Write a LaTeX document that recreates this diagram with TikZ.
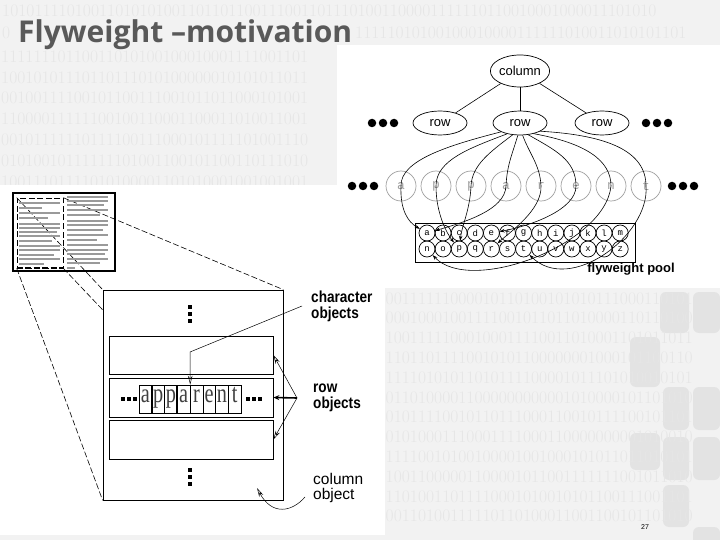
\documentclass[tikz,border=0pt]{standalone}
\usepackage{fontspec}
\usepackage{graphicx}
\usetikzlibrary{arrows.meta,shapes.geometric}
\newfontfamily\lsans{Liberation Sans}
\newfontfamily\lmono{Liberation Mono}
\newfontfamily\lserif{Liberation Serif}
\newfontfamily\osans{Open Sans}
\definecolor{bgc}{HTML}{F2F2F2}
\definecolor{digc}{HTML}{E6E6E6}
\definecolor{titc}{HTML}{595959}
\definecolor{sqc}{HTML}{E3E3E3}
\definecolor{ltg}{HTML}{A0A0A0}
\definecolor{barc}{HTML}{9A9A9A}
\pgfdeclarelayer{back}
\pgfdeclarelayer{mid}
\pgfsetlayers{back,mid,main}
\begin{document}
\begin{tikzpicture}[x=1pt,y=-1pt,
  ell/.style={ellipse, draw, line width=0.7pt, inner sep=0pt, font=\lsans\fontsize{13}{13}\selectfont},
  bigdot/.style={circle, fill=black, inner sep=0pt, minimum size=8.5pt},
  smdot/.style={rectangle, fill=black, inner sep=0pt, minimum size=4pt},
  lcirc/.style={circle, draw=ltg, line width=0.7pt, minimum size=30pt, inner sep=0pt, text=ltg, font=\lmono\fontsize{13}{13}\selectfont},
  pcirc/.style={circle, draw, line width=0.7pt, minimum size=16pt, inner sep=0pt, font=\lmono\fontsize{9}{9}\selectfont},
  conn/.style={line width=0.6pt},
  arr/.style={conn, -{Stealth[length=5pt,width=3.5pt]}},
  oarr/.style={line width=0.5pt, -{Stealth[open,length=9pt,width=4.5pt]}},
  dsh/.style={line width=0.6pt, dash pattern=on 6pt off 2.5pt},
  boxn/.style={draw, line width=0.5pt, minimum width=12.75pt, minimum height=28pt, inner sep=0pt, text height=14pt, text depth=7pt, text=black!75, font=\lserif\fontsize{27}{27}\selectfont},
  lbold/.style={anchor=west, inner sep=0pt, align=left, font=\lsans\bfseries\fontsize{16}{16}\selectfont},
  lreg/.style={anchor=west, inner sep=0pt, align=left, font=\lsans\fontsize{15.5}{15.5}\selectfont},
  rbox/.style={draw, line width=0.7pt, inner sep=0pt, fill=white},
  bin/.style={anchor=base west, inner sep=0pt, text=digc, font=\fontsize{17.6}{18}\selectfont}
]
\useasboundingbox (0,0) rectangle (720,540);
% ---------- background ----------
\begin{pgfonlayer}{back}
\fill[bgc] (0,0) rectangle (720,540);
\foreach \xa/\ya/\xb/\yb in {660/292/689/333, 693/292/720/333, 630/337/660/387, 663/387/689/430, 693/387/720/430, 630/433/660/470, 663/437/689/480, 693/437/720/480, 663/485/689/527, 693/527/720/545}
  \fill[sqc, rounded corners=6pt] (\xa,\ya) rectangle (\xb,\yb);
\node[bin] (b0) at (2,17) {101011110100110101010011011011001110011011101001100001111110110010001000011101010};
\node[bin] (b1a) at (2,39) {0};
\node[bin] (b1b) at (355,39) {11111010100100010000111111010011010101101};
\foreach \yy/\s [count=\i] in {
  63/11111110110011010100100010001111001101,
  83.5/10010101110110111010100000010101011011,
  104/00100111100101100111001011011000101001,
  125/11000011111100100110001100011010011001,
  146/00101111110111100111000101111101001110,
  167/01010010111111101001100101100110111010,
  187.5/10011101111010100001101010001001001001}
  \node[bin] (bt\i) at (1,\yy) {\s};
\foreach \yy/\s [count=\i] in {
  304/00111111000010110100101010111000110101,
  323.8/00010001001111001011011010000110110100,
  343.6/10011111000100011110011010001101011011,
  363.4/11011011110010101100000001000101100110,
  383.2/11110101011010111100001011101010010101,
  403/01101000011000000000001010000101101010,
  422.8/01011110010110111000110010111100101101,
  442.6/01010001110001111000110000000001010010,
  462.4/11110010100100001001000101011011010101,
  482.2/10011000001100001011001111111001011010,
  502/11010011011110001010010101100111001101,
  521.8/00110100111110110100011001100101101010}
  \node[bin] (bb\i) at (385.5,\yy) {\s};
\fill[white] (337,45) rectangle (720,288);
\fill[white] (0,185) rectangle (385,535);
\end{pgfonlayer}
% ---------- title ----------
\node[anchor=base west, inner sep=0pt, text=titc] (title) at (18,43) {\resizebox{334pt}{!}{\osans\bfseries Flyweight –motivation}};
\node[font=\lsans\fontsize{7}{7}\selectfont, inner sep=0pt] (pg) at (645,527) {27};
% ---------- top right: object structure ----------
\node[ell, minimum width=56pt, minimum height=32pt] (col) at (520,71) {column};
\node[ell, minimum width=54pt, minimum height=24pt] (r1) at (440,123) {row};
\node[ell, minimum width=54pt, minimum height=24pt] (r2) at (520,123) {row};
\node[ell, minimum width=54pt, minimum height=24pt] (r3) at (602,123) {row};
\draw[conn] (col) -- (r1);
\draw[conn] (col) -- (r2);
\draw[conn] (col) -- (r3);
\foreach \x [count=\i] in {372,383,394} \node[bigdot] (dl\i) at (\x,123) {};
\foreach \x [count=\i] in {646,657,668} \node[bigdot] (dr\i) at (\x,123) {};
\foreach \x [count=\i] in {352,363,374} \node[bigdot] (cl\i) at (\x,186) {};
\foreach \x [count=\i] in {672,683,694} \node[bigdot] (cr\i) at (\x,186) {};
\foreach \l/\n [count=\i from 0] in {a/la1,p/lp1,p/lp2,a/la2,r/lr,e/le,n/ln,t/lt}
  \node[lcirc] (\n) at ({401+35*\i},186) {\l};
% flyweight pool
\node[draw, line width=0.8pt, minimum width=220pt, minimum height=39pt, inner sep=0pt] (pool) at (525,242.5) {};
\foreach \l [count=\i from 0] in {a,b,c,d,e,f,g,h,i,j,k,l,m}
  \node[pcirc] (p\l) at ({427+16.1*\i},233) {\l};
\foreach \l [count=\i from 0] in {n,o,p,q,r,s,t,u,v,w,x,y,z}
  \node[pcirc] (p\l) at ({427+16.1*\i},249) {\l};
\node[font=\lsans\bfseries\fontsize{13}{13}\selectfont, inner sep=0pt] (fpl) at (631,269) {flyweight pool};
% references from the row to the shared character objects
\draw[arr] (r2.205) .. controls (450,145) and (400,160) .. (la1.center) .. controls (400,210) and (408,222) .. (pa);
\draw[arr] (r2.220) .. controls (470,148) and (436,160) .. (lp1.center) .. controls (436,215) and (448,235) .. (pp);
\draw[arr] (r2.238) .. controls (490,152) and (472,165) .. (lp2.center) .. controls (470,210) and (462,225) .. (pp);
\draw[arr] (r2.260) .. controls (512,155) and (507,165) .. (la2.center) .. controls (505,210) and (465,222) .. (pa);
\draw[arr] (r2.282) .. controls (530,155) and (540,165) .. (lr.center) .. controls (542,210) and (510,232) .. (pr);
\draw[arr] (r2.305) .. controls (555,150) and (576,160) .. (le.center) .. controls (576,210) and (530,226) .. (pe);
\draw[arr] (r2.322) .. controls (585,143) and (611,160) .. (ln.center) .. controls (605,245) and (470,295) .. (pn);
\draw[arr] (r2.338) .. controls (605,135) and (646,150) .. (lt.center) .. controls (650,235) and (570,295) .. (pt);
% ---------- bottom left: page and zoom ----------
\node[draw, line width=1.2pt, minimum width=102pt, minimum height=78pt, inner sep=0pt] (thumb) at (64,232) {};
\foreach \yy/\xa/\xb in {203/19/60, 208/19/42, 213/19/60, 218/19/48, 224/19/60, 228/19/60, 232/19/57, 236/19/60, 241/19/52, 246/19/60, 250/19/60, 255/19/54, 259/19/60, 264/19/44,
  197/67/108, 201/67/108, 205/67/104, 210/67/108, 215/67/100, 221/67/108, 225/67/108, 230/67/103, 235/67/108, 240/67/97, 245/67/108, 250/67/108, 254/67/105, 259/67/108, 263/67/100, 268/67/75}
  \draw[barc, line width=2.2pt] (\xa,\yy) -- (\xb,\yy);
\node[draw, dsh, minimum width=46pt, minimum height=70pt, inner sep=0pt] (zsrc) at (40,233) {};
\draw[dsh, line width=1.8pt] (zsrc.south west) -- (zsrc.south east);
\node[rbox, minimum width=180pt, minimum height=210pt] (big) at (193,395) {};
\begin{pgfonlayer}{mid}
\draw[dsh] (zsrc.north west) -- (big.north west);
\draw[dsh] (zsrc.north east) -- (big.north east);
\draw[dsh] (zsrc.south west) -- (big.south west);
\draw[dsh] (zsrc.south east) -- (big.south east);
\end{pgfonlayer}
\foreach \y [count=\i] in {307,314,321} \node[smdot, minimum size=4.5pt] (vt\i) at (190,\y) {};
\foreach \y [count=\i] in {470,477,484} \node[smdot, minimum size=4.5pt] (vb\i) at (190,\y) {};
\node[rbox, minimum width=164pt, minimum height=38pt] (row1) at (191,355) {};
\node[rbox, minimum width=164pt, minimum height=39pt] (row2) at (191,397.5) {};
\node[rbox, minimum width=164pt, minimum height=39pt] (row3) at (191,439.5) {};
\foreach \x [count=\i] in {123,129,135} \node[smdot, minimum size=3.6pt] (hl\i) at (\x,399) {};
\foreach \x [count=\i] in {248,254,260} \node[smdot, minimum size=3.6pt] (hr\i) at (\x,399) {};
\foreach \l [count=\i from 0] in {a,p,p,a,r,e,n,t}
  \node[boxn] (ap\i) at ({145.375+12.75*\i},399) {\scalebox{0.75}[1]{\l}};
\foreach \k in {1,2,3,6} \draw[line width=1.8pt] ({139+12.75*\k},385) -- ({139+12.75*\k},413);
% labels
\node[lbold] (lchar) at (311,306) {\scalebox{0.85}[1]{character}\\\scalebox{0.85}[1]{objects}};
\node[lbold] (lrow) at (313,398) {\scalebox{0.85}[1]{row}\\\scalebox{0.85}[1]{objects}};
\node[lreg] (lcol) at (313,488) {column\\object};
\coordinate (cstart) at (302,306);
\draw[oarr] (cstart) -- (190,352) -- (ap3.north east);
\coordinate (rp) at (297,398);
\draw[oarr] (rp) -- (row1.east);
\draw[line width=1.6pt, -{Stealth[length=6pt,width=5pt]}] (rp) -- (row2.east);
\draw[oarr] (rp) -- (row3.east);
\coordinate (cs) at (305,497);
\coordinate (ce) at (257,488);
\draw[oarr] (cs) .. controls (292,512) and (272,516) .. (ce);
\end{tikzpicture}
\end{document}
